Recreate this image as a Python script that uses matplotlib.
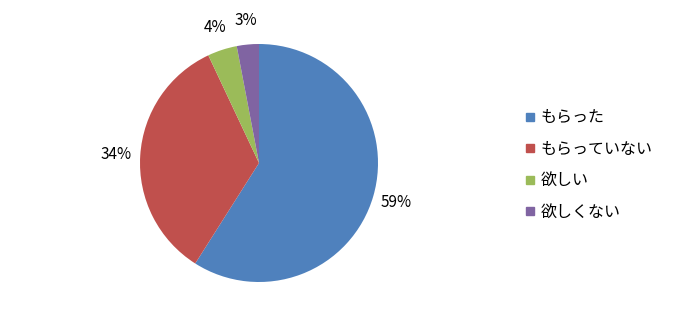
import matplotlib
matplotlib.use("Agg")
import matplotlib.pyplot as plt
from matplotlib.lines import Line2D

plt.rcParams['font.family'] = ['Noto Sans CJK JP', 'DejaVu Sans']

categories = ["もらった", "もらっていない", "欲しい", "欲しくない"]
values = [59, 34, 4, 3]
colors = ["#4F81BD", "#C0504D", "#9BBB59", "#8064A2"]

fig = plt.figure(figsize=(6.74, 3.25), dpi=100)
W, H = 674, 325
cx, cy, r = 259, 163, 119
ax = fig.add_axes([(cx - r) / W, 1 - (cy + r) / H, 2 * r / W, 2 * r / H])
wedges, texts = ax.pie(values, colors=colors, startangle=90, counterclock=False,
                       labels=[f"{v}%" for v in values], labeldistance=1.2,
                       textprops=dict(fontsize=11, color="black"),
                       wedgeprops=dict(linewidth=0))
for t in texts:
    t.set_horizontalalignment('center')
    t.set_verticalalignment('center')
ax.set_xlim(-1, 1)
ax.set_ylim(-1, 1)
ax.set_aspect('equal')
ax.axis('off')

handles = [Line2D([], [], marker='s', linestyle='none', markersize=6,
                  markerfacecolor=c, markeredgecolor=c) for c in colors]
fig.legend(handles, categories, loc='upper left', bbox_to_anchor=(510 / W, 1 - 95 / H),
           frameon=False, fontsize=11.5, handlelength=0.7, handletextpad=0.3,
           labelspacing=0.9)

fig.savefig("out.png", dpi=100)
